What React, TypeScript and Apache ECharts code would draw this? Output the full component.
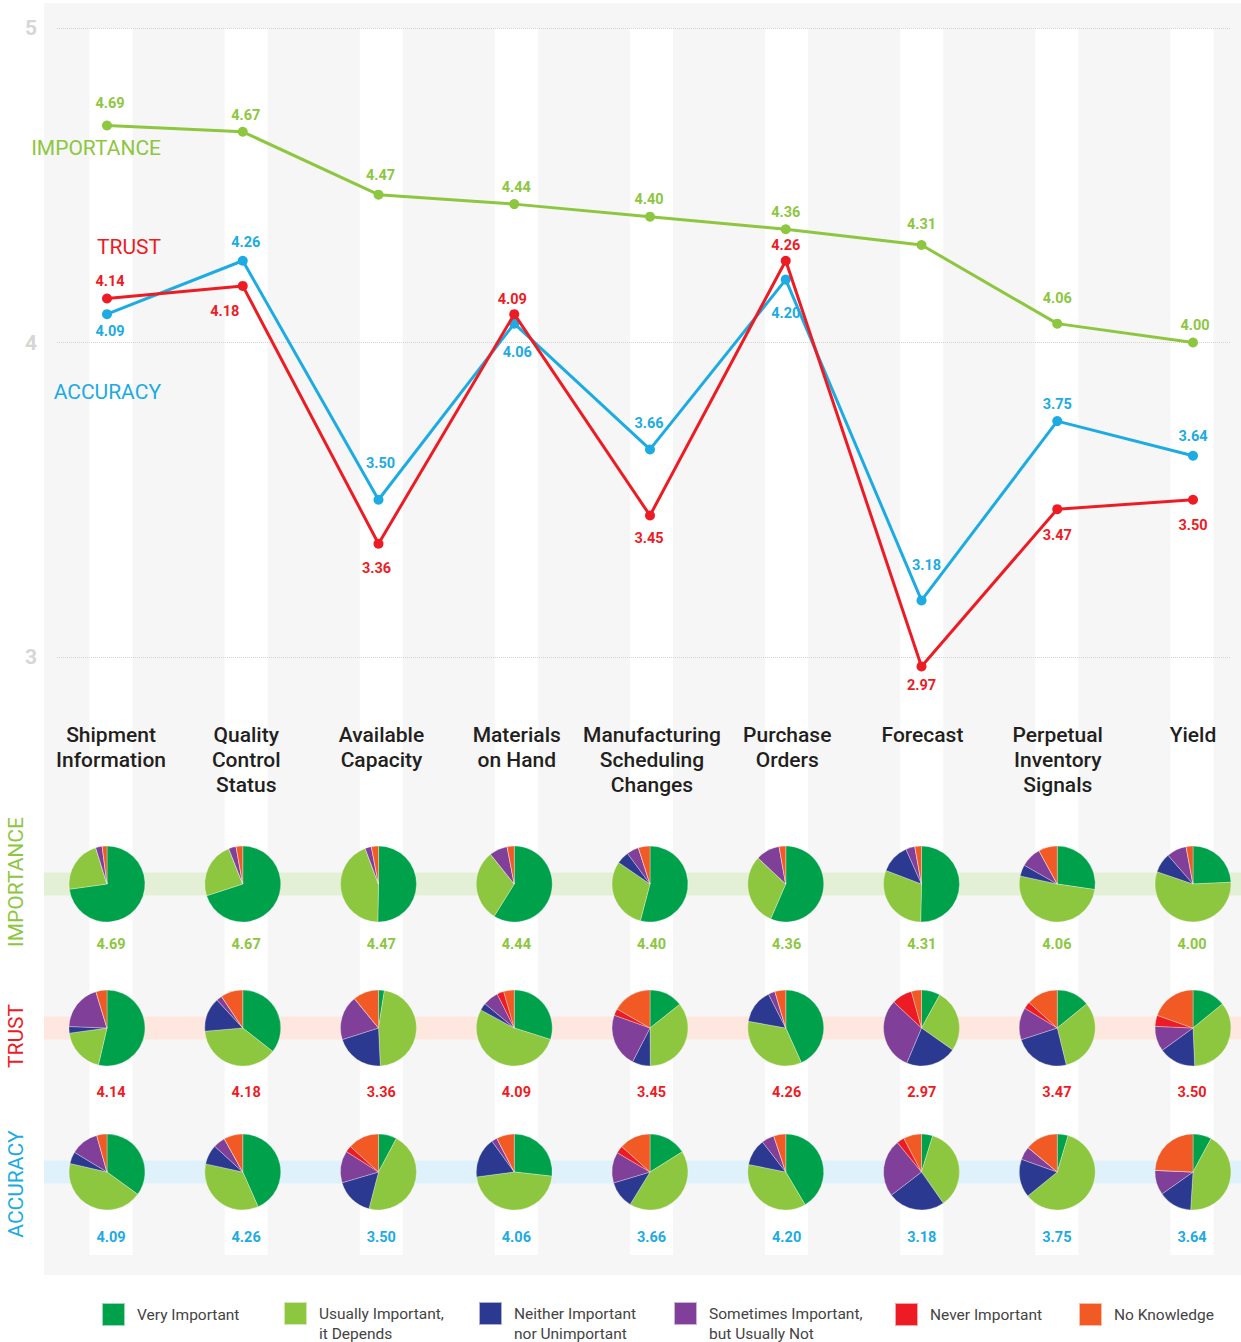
import React, { useEffect, useRef } from 'react';
import * as echarts from 'echarts';

// ---------- data ----------
const categories = [
  'Shipment\nInformation',
  'Quality\nControl\nStatus',
  'Available\nCapacity',
  'Materials\non Hand',
  'Manufacturing\nScheduling\nChanges',
  'Purchase\nOrders',
  'Forecast',
  'Perpetual\nInventory\nSignals',
  'Yield',
];
const importance = [4.69, 4.67, 4.47, 4.44, 4.4, 4.36, 4.31, 4.06, 4.0];
const trust = [4.14, 4.18, 3.36, 4.09, 3.45, 4.26, 2.97, 3.47, 3.5];
const accuracy = [4.09, 4.26, 3.5, 4.06, 3.66, 4.2, 3.18, 3.75, 3.64];
const yTicks = [3, 4, 5];

const responseNames = [
  'Very Important',
  'Usually Important,\nit Depends',
  'Neither Important\nnor Unimportant',
  'Sometimes Important,\nbut Usually Not',
  'Never Important',
  'No Knowledge',
];

// shares (%) per category, in responseNames order
const importanceShares = [
  [72.8, 22.4, 0, 2.8, 0, 2.0],
  [70.0, 24.0, 0, 3.2, 0, 2.8],
  [50.3, 44.0, 0, 2.7, 0, 3.0],
  [58.7, 30.3, 0, 7.7, 0, 3.0],
  [53.6, 30.2, 5.3, 5.1, 0, 4.9],
  [56.5, 30.5, 0, 10.2, 0, 2.8],
  [50.3, 30.4, 12.5, 3.9, 0, 2.8],
  [27.1, 50.6, 4.8, 8.7, 0, 7.9],
  [24.3, 56.0, 8.4, 8.5, 0, 2.9],
];
const trustShares = [
  [53.7, 19.2, 2.8, 19.7, 0, 4.7],
  [35.1, 37.6, 14.3, 2.4, 0, 9.3],
  [2.5, 46.7, 20.8, 19.0, 0, 10.9],
  [29.9, 53.0, 3.1, 6.6, 2.9, 4.5],
  [14.0, 34.8, 7.5, 22.4, 2.8, 16.3],
  [43.3, 34.6, 14.7, 2.9, 0, 4.6],
  [8.0, 26.8, 21.6, 30.7, 8.7, 4.3],
  [14.1, 32.1, 23.8, 13.7, 3.0, 13.3],
  [14.1, 35.2, 15.7, 10.7, 4.7, 19.6],
];
const accuracyShares = [
  [34.7, 43.2, 5.0, 11.9, 0, 4.3],
  [43.0, 34.8, 8.3, 5.1, 0, 8.0],
  [7.8, 46.3, 16.4, 13.6, 2.7, 13.3],
  [26.8, 46.2, 17.1, 2.4, 0, 7.6],
  [16.1, 42.6, 11.6, 13.1, 3.2, 13.3],
  [40.7, 36.0, 11.1, 5.3, 0, 5.0],
  [4.7, 35.1, 24.0, 24.2, 3.2, 7.6],
  [4.6, 59.0, 16.2, 5.6, 0, 13.8],
  [7.9, 43.1, 14.2, 10.5, 0, 24.3],
];

// ---------- styles ----------
const GREEN = '#8dc63f';
const RED = '#ed1c24';
const BLUE = '#1cabe2';
const responseColors = ['#00a14b', '#8dc63f', '#2b3990', '#803f98', '#ed1c24', '#f15a24'];
const NUMFONT = "'Roboto', sans-serif";
const NUMSIZE = 14.5;

// label offsets (label centre relative to point), style only
const impLabelOff = [[3, -22], [3, -16], [2, -19], [2, -17], [-1, -17], [0, -17], [0, -21], [0, -25], [2, -17]];
const trustLabelOff = [[3, -17], [-18, 26], [-2, 25], [-2, -15], [-1, 23], [0, -15], [0, 19], [0, 26], [0, 26]];
const accLabelOff = [[3, 17], [3, -18], [2, -36], [3, 29], [-1, -26], [0, 34], [5, -35], [0, -17], [0, -19]];

const legendLefts = [101, 283, 478, 673, 894, 1078];

const rows = [
  { name: 'IMPORTANCE', shares: importanceShares, values: importance, color: GREEN, band: '#e3f0d6', cy: 884, labelY: 944, sideY: 882 },
  { name: 'TRUST', shares: trustShares, values: trust, color: RED, band: '#fde7df', cy: 1028, labelY: 1092, sideY: 1036 },
  { name: 'ACCURACY', shares: accuracyShares, values: accuracy, color: BLUE, band: '#dff1fa', cy: 1172, labelY: 1237, sideY: 1184 },
];

function lineSeries(name: string, data: number[], color: string, offs: number[][], z: number) {
  return {
    type: 'line',
    name,
    xAxisIndex: 3,
    yAxisIndex: 3,
    clip: false,
    z,
    symbol: 'circle',
    symbolSize: 10,
    lineStyle: { color, width: 3 },
    itemStyle: { color },
    label: {
      show: true,
      position: 'inside',
      color,
      fontFamily: NUMFONT,
      fontWeight: 'bold',
      fontSize: NUMSIZE,
      formatter: (p: any) => Number(p.value).toFixed(2),
    },
    data: data.map((v, i) => ({ value: v, label: { offset: offs[i] } })),
  };
}

function baseOption(): any {
  return {
    animation: false,
    grid: [
      { left: 44, top: 3, right: 0, bottom: 67, show: true, backgroundColor: '#f6f6f6', borderWidth: 0 },
      { left: 111, right: 49, top: 28, bottom: 87 },
      { left: 57, right: 11, top: 28, height: 629 },
      { left: 107, right: 48, top: 28, height: 629 },
      { left: 111, right: 48, top: 28, height: 629 },
    ],
    xAxis: [
      { gridIndex: 0, type: 'value', show: false },
      { gridIndex: 1, type: 'category', data: categories, boundaryGap: false, show: false },
      { gridIndex: 2, type: 'value', show: false },
      { gridIndex: 3, type: 'category', data: categories, boundaryGap: false, show: false },
      {
        gridIndex: 4,
        type: 'category',
        data: categories,
        boundaryGap: false,
        z: 8,
        axisLine: { show: false },
        axisTick: { show: false },
        splitLine: { show: false },
        axisLabel: {
          interval: 0,
          margin: 65,
          fontSize: 21,
          fontWeight: 500,
          lineHeight: 25.3,
          color: '#231f20',
          fontFamily: 'Roboto',
        },
      },
    ],
    yAxis: [
      { gridIndex: 0, type: 'value', show: false },
      { gridIndex: 1, type: 'value', min: 0, max: 1, show: false },
      {
        gridIndex: 2,
        type: 'value',
        min: yTicks[0],
        max: yTicks[yTicks.length - 1],
        interval: 1,
        z: 2,
        axisLine: { show: false },
        axisTick: { show: false },
        splitLine: { lineStyle: { type: 'dotted', color: '#d2d2d2', width: 1 } },
        axisLabel: { margin: 20, fontSize: 21, fontWeight: 'bold', color: '#d6d6d6', fontFamily: 'Roboto' },
      },
      { gridIndex: 3, type: 'value', min: yTicks[0], max: yTicks[yTicks.length - 1], show: false },
      { gridIndex: 4, type: 'value', min: yTicks[0], max: yTicks[yTicks.length - 1], show: false },
    ],
    series: [
      {
        type: 'bar',
        xAxisIndex: 1,
        yAxisIndex: 1,
        data: categories.map(() => 1),
        barWidth: 43,
        itemStyle: { color: '#ffffff' },
        silent: true,
        z: 1,
      },
      lineSeries('Importance', importance, GREEN, impLabelOff, 4),
      lineSeries('Accuracy', accuracy, BLUE, accLabelOff, 5),
      lineSeries('Trust', trust, RED, trustLabelOff, 6),
    ],
  };
}

export default function App() {
  const ref = useRef<HTMLDivElement>(null);
  useEffect(() => {
    if (!ref.current) return;
    const chart = echarts.init(ref.current, null, { renderer: 'svg' });
    chart.setOption(baseOption());

    const xs = categories.map((_, i) => chart.convertToPixel({ xAxisIndex: 3 }, i) as number);
    const xsLabel = categories.map((_, i) => chart.convertToPixel({ xAxisIndex: 1 }, i) as number);

    const pies: any[] = [];
    const graphics: any[] = [];
    rows.forEach((row) => {
      graphics.push({
        type: 'rect',
        z: 2,
        silent: true,
        shape: { x: 44, y: row.cy - 11.5, width: 1197, height: 23 },
        style: { fill: row.band },
      });
      graphics.push({
        type: 'text',
        z: 7,
        x: 16,
        y: row.sideY,
        rotation: Math.PI / 2,
        style: {
          text: row.name,
          fill: row.color,
          fontFamily: 'Roboto',
          fontSize: 21,
          align: 'center',
          verticalAlign: 'middle',
        },
      });
      xs.forEach((x, i) => {
        pies.push({
          type: 'pie',
          z: 3,
          center: [x, row.cy],
          radius: 38,
          startAngle: 90,
          clockwise: true,
          silent: true,
          label: { show: false },
          labelLine: { show: false },
          itemStyle: { borderColor: 'rgba(255,255,255,0.6)', borderWidth: 0.5 },
          data: responseNames.map((n, j) => ({
            name: n,
            value: row.shares[i][j],
            itemStyle: { color: responseColors[j] },
          })),
        });
        graphics.push({
          type: 'text',
          z: 7,
          x: xsLabel[i],
          y: row.labelY,
          style: {
            text: row.values[i].toFixed(2),
            fill: row.color,
            fontFamily: NUMFONT,
            fontWeight: 'bold',
            fontSize: NUMSIZE,
            align: 'center',
            verticalAlign: 'middle',
          },
        });
      });
    });

    const lineNames = [
      { text: 'IMPORTANCE', color: GREEN, y: 148 },
      { text: 'TRUST', color: RED, y: 247 },
      { text: 'ACCURACY', color: BLUE, y: 392 },
    ];
    lineNames.forEach((l) => {
      graphics.push({
        type: 'text',
        z: 7,
        x: 161,
        y: l.y,
        style: {
          text: l.text,
          fill: l.color,
          fontFamily: 'Roboto',
          fontSize: 21,
          align: 'right',
          verticalAlign: 'middle',
        },
      });
    });

    const legends = responseNames.map((n, i) => {
      const twoLine = n.indexOf('\n') >= 0;
      return {
        data: [n],
        left: legendLefts[i],
        top: twoLine ? 1283.5 : 1302,
        padding: 0,
        itemWidth: 23,
        itemHeight: 23,
        icon: 'rect',
        selectedMode: false,
        formatter: (name: string) => (twoLine ? '\n' + name : name),
        textStyle: {
          fontFamily: 'Roboto',
          fontSize: 15.5,
          lineHeight: 20,
          color: '#444444',
          padding: [0, 0, 0, 7],
        },
      };
    });

    const full = baseOption();
    full.series = full.series.concat(pies);
    full.graphic = graphics;
    full.legend = legends;
    chart.setOption(full, true);

    return () => chart.dispose();
  }, []);
  return (
    <div
      ref={ref}
      style={{ position: 'absolute', left: 0, top: 0, width: 1241, height: 1342 }}
    />
  );
}
